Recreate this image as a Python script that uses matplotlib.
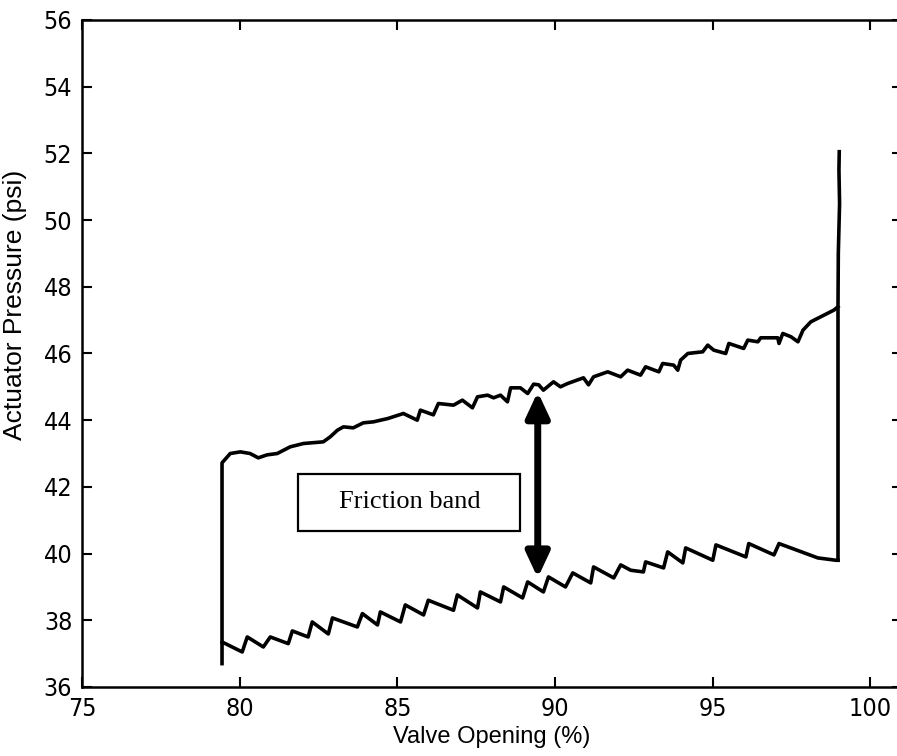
import numpy as np
import matplotlib.pyplot as plt
from matplotlib.patches import FancyArrowPatch, Rectangle

# lower branch (opening decreasing)
lower_x = [79.44, 79.44, 80.08, 80.24, 80.75, 80.97, 81.54, 81.67, 82.17, 82.30,
           82.81, 82.94, 83.73, 83.89, 84.37, 84.46, 85.10, 85.25, 85.83, 85.98,
           86.78, 86.90, 87.54, 87.63, 88.27, 88.37, 88.97, 89.13, 89.63, 89.79,
           90.33, 90.56, 91.13, 91.22, 91.86, 92.08, 92.40, 92.80, 92.87, 93.44,
           93.57, 94.05, 94.14, 95.00, 95.10, 96.05, 96.14, 96.94, 97.10, 98.33,
           98.90, 98.97]
lower_p = [36.70, 37.35, 37.05, 37.50, 37.20, 37.50, 37.30, 37.68, 37.50, 37.95,
           37.59, 38.07, 37.80, 38.20, 37.86, 38.25, 37.95, 38.46, 38.16, 38.60,
           38.30, 38.76, 38.37, 38.85, 38.55, 39.00, 38.67, 39.15, 38.85, 39.30,
           39.00, 39.42, 39.12, 39.60, 39.27, 39.66, 39.50, 39.45, 39.75, 39.57,
           40.05, 39.72, 40.17, 39.80, 40.26, 39.90, 40.30, 39.96, 40.30, 39.87,
           39.80, 39.80]

# upper branch (opening increasing)
upper_x = [79.44, 79.44, 79.70, 80.02, 80.33, 80.59, 80.87, 81.19, 81.60, 82.02,
           82.65, 82.87, 83.10, 83.29, 83.60, 83.92, 84.24, 84.70, 85.19, 85.63,
           85.73, 86.14, 86.30, 86.78, 87.06, 87.38, 87.54, 87.86, 88.05, 88.27,
           88.49, 88.59, 88.90, 89.13, 89.32, 89.48, 89.63, 89.95, 90.17, 90.40,
           90.90, 91.06, 91.22, 91.67, 92.08, 92.30, 92.71, 92.87, 93.29, 93.41,
           93.76, 93.89, 93.98, 94.21, 94.68, 94.84, 95.03, 95.41, 95.51, 95.98,
           96.11, 96.43, 96.52, 97.06, 97.10, 97.22, 97.48, 97.70, 97.86, 98.11,
           98.84, 98.97]
upper_p = [37.35, 42.72, 43.00, 43.05, 43.00, 42.87, 42.96, 43.00, 43.20, 43.30,
           43.35, 43.50, 43.70, 43.80, 43.77, 43.92, 43.95, 44.05, 44.20, 44.00,
           44.30, 44.16, 44.50, 44.45, 44.60, 44.37, 44.70, 44.75, 44.67, 44.75,
           44.55, 44.97, 44.97, 44.80, 45.08, 45.06, 44.90, 45.15, 45.00, 45.10,
           45.27, 45.06, 45.30, 45.45, 45.30, 45.50, 45.35, 45.60, 45.45, 45.70,
           45.65, 45.50, 45.80, 46.00, 46.05, 46.25, 46.10, 46.00, 46.30, 46.15,
           46.40, 46.35, 46.47, 46.47, 46.30, 46.60, 46.50, 46.35, 46.70, 46.95,
           47.30, 47.40]

# pressure spike at full opening
spike_x = [98.97, 98.97, 98.98, 99.02, 99.00, 99.01]
spike_p = [39.80, 47.40, 49.00, 50.50, 51.50, 52.05]

fig = plt.figure(figsize=(8.97, 7.56), dpi=100)
ax = fig.add_axes([0.0914, 0.0913, 0.9142, 0.8823])

ax.plot(lower_x, lower_p, color='black', lw=2.6)
ax.plot(upper_x, upper_p, color='black', lw=2.6)
ax.plot(spike_x, spike_p, color='black', lw=2.6)

# friction band arrow + label
arrow = FancyArrowPatch((89.45, 39.27), (89.45, 44.85),
                        arrowstyle='<|-|>,head_length=1.5,head_width=0.7',
                        mutation_scale=10, lw=5, color='black',
                        shrinkA=0, shrinkB=0)
ax.add_patch(arrow)
ax.add_patch(Rectangle((81.86, 40.68), 7.04, 1.71, fc='white', ec='black', lw=1.6))
ax.text(85.38, 41.54, 'Friction band', family='Liberation Serif', fontsize=19,
        ha='center', va='center')

ax.set_xlim(75, 101)
ax.set_ylim(36, 56)
ax.set_xticks([75, 80, 85, 90, 95, 100])
ax.set_yticks(np.arange(36, 57, 2))

ax.tick_params(axis='both', which='major', direction='in', length=7, width=1.5,
               top=True, right=True, pad=7)
for lab in ax.get_xticklabels() + ax.get_yticklabels():
    lab.set_family(['DejaVu Sans'])
    lab.set_fontstretch('condensed')
    lab.set_fontsize(18)

for s in ax.spines.values():
    s.set_linewidth(1.8)

ax.set_xlabel('Valve Opening (%)', family='Liberation Sans', fontsize=17, labelpad=4)
ax.set_ylabel('Actuator Pressure (psi)', family='Liberation Sans', fontsize=19)
ax.yaxis.set_label_coords(-0.067, 0.573)

fig.savefig('out.png', dpi=100)
